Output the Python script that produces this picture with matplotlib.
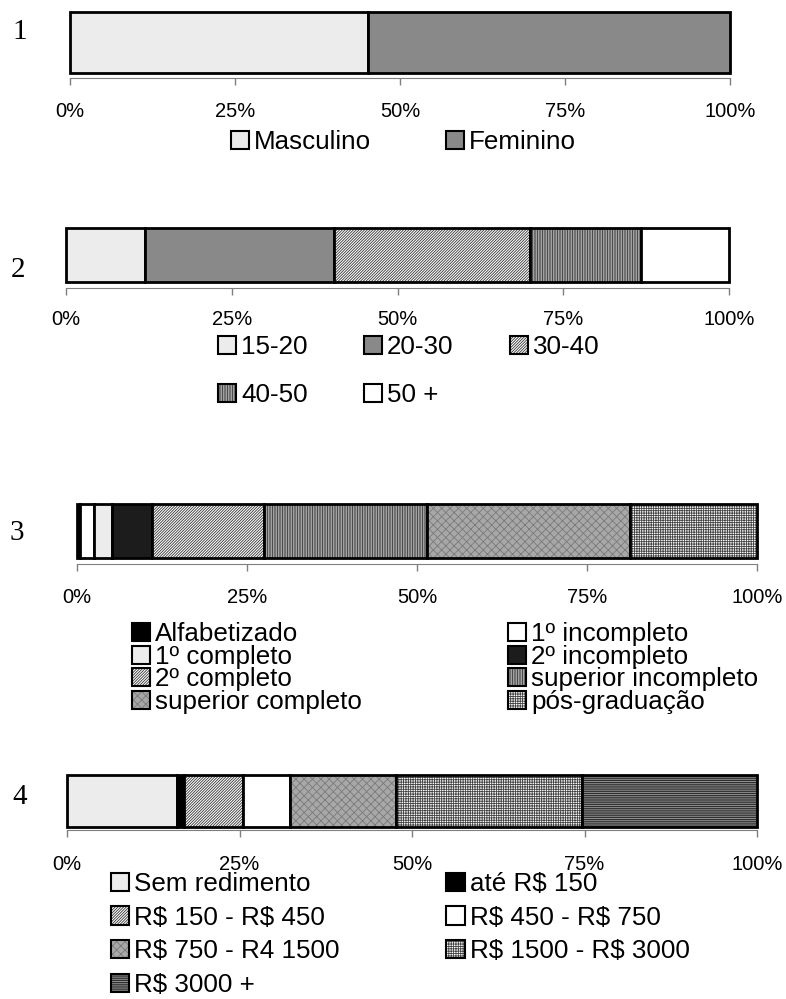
import matplotlib
matplotlib.use('Agg')
import numpy as np
import matplotlib.pyplot as plt
from matplotlib.patches import Patch

plt.rcParams['hatch.linewidth'] = 0.6
plt.rcParams['text.parse_math'] = False
SANS = ['Liberation Sans', 'DejaVu Sans']
SERIF = ['Liberation Serif', 'DejaVu Serif']

# ---------------- data ----------------
sexo_labels = ['Masculino', 'Feminino']
sexo_values = [45.2, 54.8]

idade_labels = ['15-20', '20-30', '30-40', '40-50', '50 +']
idade_values = [11.9, 28.5, 29.6, 16.7, 13.3]

escol_labels = ['Alfabetizado', '1º incompleto', '1º completo', '2º incompleto',
                '2º completo', 'superior incompleto', 'superior completo', 'pós-graduação']
escol_values = [0.4, 2.1, 2.6, 5.9, 16.5, 23.9, 29.9, 18.7]

renda_labels = ['Sem redimento', 'até R$ 150', 'R$ 150 - R$ 450', 'R$ 450 - R$ 750',
                'R$ 750 - R4 1500', 'R$ 1500 - R$ 3000', 'R$ 3000 +']
renda_values = [15.9, 1.0, 8.6, 6.8, 15.4, 27.0, 25.3]

tick_values = [0, 25, 50, 75, 100]
tick_labels = ['0%', '25%', '50%', '75%', '100%']
panel_numbers = ['1', '2', '3', '4']

# ---------------- styles (face, hatch, hatch colour) ----------------
LIGHT = ('#ececec', None, '#ececec')
DARK = ('#898989', None, '#898989')
DIAG = ('#ffffff', '/' * 12, '#333333')
VERT = ('#c8c8c8', '|' * 10, '#333333')
WHITE = ('#ffffff', None, '#ffffff')
BLACK = ('#000000', None, '#000000')
NEARBLACK = ('#1c1c1c', None, '#1c1c1c')
WEAVE = ('#a8a8a8', 'xxxx', '#7a7a7a')
GRID = ('#ffffff', '+' * 7, '#444444')
HORIZ = ('#909090', '-' * 9, '#1a1a1a')

sexo_styles = [LIGHT, DARK]
idade_styles = [LIGHT, DARK, DIAG, VERT, WHITE]
escol_styles = [BLACK, WHITE, LIGHT, NEARBLACK, DIAG, VERT, WEAVE, GRID]
renda_styles = [LIGHT, BLACK, DIAG, WHITE, WEAVE, GRID, HORIZ]

W, H = 786, 999
fig = plt.figure(figsize=(W / 100, H / 100), dpi=100)


def rect(l, r, t, b):
    return [l / W, 1 - b / H, (r - l) / W, (b - t) / H]


def panel(box, values, styles, outward, pad):
    ax = fig.add_axes(rect(*box))
    ax.set_facecolor('none')
    lefts = np.concatenate([[0], np.cumsum(values)[:-1]])
    for v, l, (fc, hatch, hc) in zip(values, lefts, styles):
        ax.barh(0, v, left=l, height=1, color=fc, hatch=hatch, edgecolor=hc, linewidth=0)
        ax.barh(0, v, left=l, height=1, fill=False, edgecolor='black', linewidth=2.0,
                clip_on=False)
    ax.set_xlim(0, 100)
    ax.set_ylim(-0.5, 0.5)
    ax.set_yticks([])
    for s in ['top', 'left', 'right']:
        ax.spines[s].set_visible(False)
    ax.spines['bottom'].set_position(('outward', outward))
    ax.spines['bottom'].set_color('#7f7f7f')
    ax.set_xticks(tick_values, tick_labels, fontfamily=SANS, fontsize=14.5)
    ax.tick_params(axis='x', direction='out', length=5, width=1, color='#7f7f7f', pad=pad)
    return ax


def reorder(items, ncol):
    return [items[i] for c in range(ncol) for i in range(c, len(items), ncol)]


def legend(labels, styles, ncol, x, y, colspacing, labelspacing):
    handles = [(Patch(facecolor=fc, hatch=h, edgecolor=hc, linewidth=0),
                Patch(fill=False, edgecolor='black', linewidth=1.5))
               for fc, h, hc in styles]
    fig.legend(reorder(handles, ncol), reorder(labels, ncol), ncol=ncol,
               loc='upper left', bbox_to_anchor=(x / W, 1 - y / H),
               bbox_transform=fig.transFigure, frameon=False, borderpad=0,
               borderaxespad=0, handlelength=0.7, handleheight=0.7,
               handletextpad=0.2, columnspacing=colspacing, labelspacing=labelspacing,
               prop={'family': SANS, 'size': 18.7})


panel((70, 730, 12, 73), sexo_values, sexo_styles, 3.5, 12.5)
panel((66, 729, 228, 282), idade_values, idade_styles, 4, 11)
panel((77, 757, 504, 558), escol_values, escol_styles, 4, 12.5)
panel((67, 757, 775, 827), renda_values, renda_styles, 2, 13.5)

legend(sexo_labels, sexo_styles, 2, 231, 130, 2.85, 0.5)
legend(idade_labels, idade_styles, 3, 218, 335, 2.15, 0.92)
legend(escol_labels, escol_styles, 2, 132, 622, 5.6, -0.05)
legend(renda_labels, renda_styles, 2, 111, 872, 4.1, 0.37)

for txt, (x, y) in zip(panel_numbers, [(20, 32), (18, 270), (17, 533), (20, 797)]):
    fig.text(x / W, 1 - y / H, txt, fontfamily=SERIF, fontsize=21, ha='center', va='center')

fig.savefig('out.png', dpi=100)
